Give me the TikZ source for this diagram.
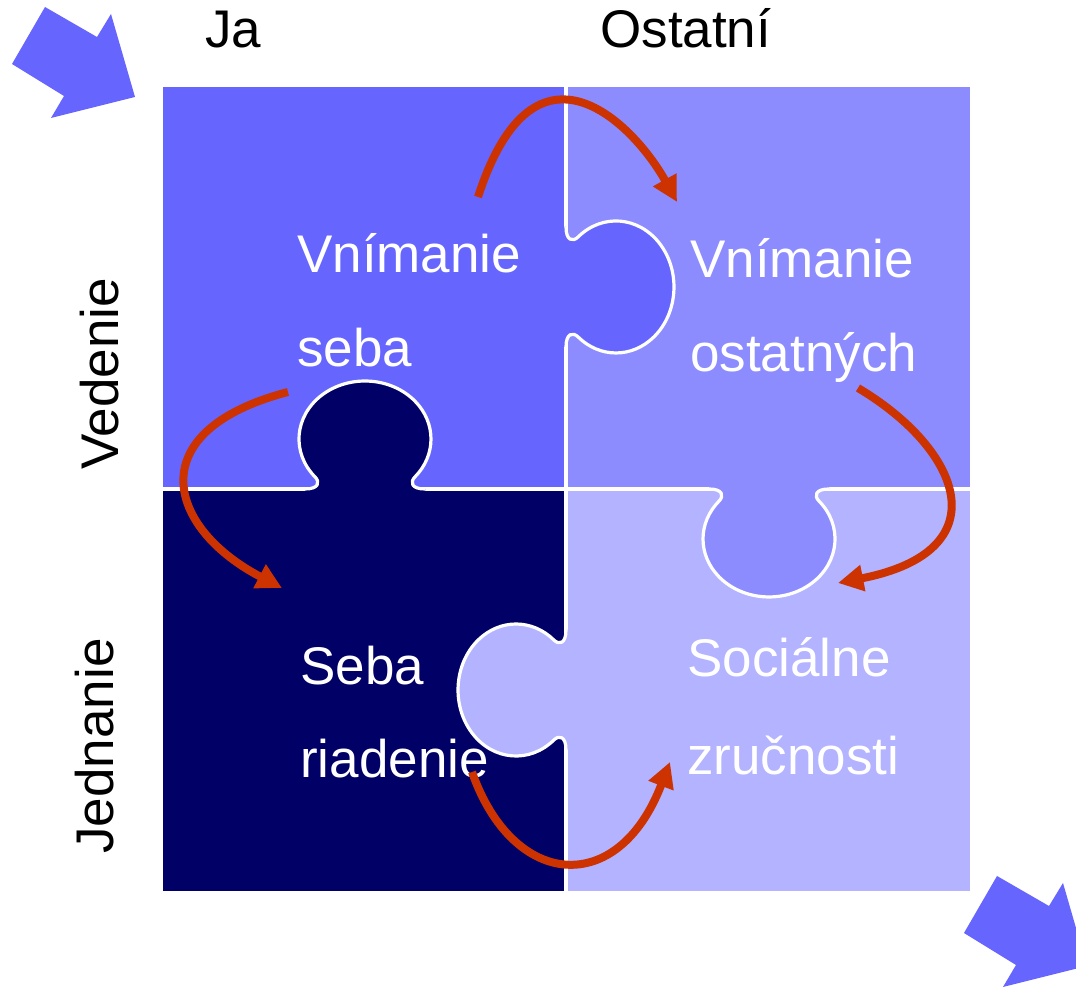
\documentclass[tikz,border=0pt]{standalone}
\usepackage{fontspec}
\setmainfont{Liberation Sans}
\usetikzlibrary{arrows.meta}

\definecolor{qTL}{HTML}{6666FF}
\definecolor{qTR}{HTML}{8C8CFF}
\definecolor{qBL}{HTML}{000066}
\definecolor{qBR}{HTML}{B3B3FF}
\definecolor{flowred}{HTML}{CC3300}

% One jigsaw tab: #1 base centre, #2 rotation (outward = local +y), #3 fill colour
\newcommand\puzzletab[3]{%
  \begin{scope}[shift={#1}, rotate=#2]
    \fill[#3] (-60,0) .. controls (-46,0) and (-45,7) .. (-49.9,12)
      arc[start angle=220.9, end angle=-40.9, x radius=66, y radius=58]
      .. controls (45,7) and (46,0) .. (60,0) -- (60,-4) -- (-60,-4) -- cycle;
    \draw[seam] (-60,0) .. controls (-46,0) and (-45,7) .. (-49.9,12)
      arc[start angle=220.9, end angle=-40.9, x radius=66, y radius=58]
      .. controls (45,7) and (46,0) .. (60,0);
  \end{scope}}

\begin{document}
\begin{tikzpicture}[x=0.75pt, y=0.75pt,
  seam/.style={draw=white, line width=2.4pt},
  lbl/.style={font=\fontsize{39.75pt}{47pt}\selectfont, inner sep=0pt, text=white},
  axislbl/.style={font=\fontsize{39.75pt}{47pt}\selectfont, inner sep=0pt, text=black},
  flow/.style={draw=flowred, line width=6pt, -{Triangle[length=19pt, width=19pt]}},
  bigarrow/.style={fill=qTL}]
\useasboundingbox (0,0) rectangle (1076,987);

% quadrants
\fill[qTL] (163,498) rectangle (566,900);
\fill[qTR] (566,498) rectangle (970,900);
\fill[qBL] (163,96) rectangle (566,498);
\fill[qBR] (566,96) rectangle (970,498);

% seams between the pieces
\draw[seam] (566,96) -- (566,900);
\draw[seam] (163,498) -- (970,498);

% interlocking tabs
\puzzletab{(566,700)}{-90}{qTL}
\puzzletab{(365,498)}{0}{qBL}
\puzzletab{(769,498)}{180}{qTR}
\puzzletab{(566,297)}{90}{qBR}

% big corner arrows
\begin{scope}
  \clip (0,0) rectangle (1076,987);
  \foreach \dx/\dy in {0/0, 952/-869}
    \fill[bigarrow, shift={(\dx,\dy)}] (12,923) -- (45,980) -- (97,950) -- (111,973)
      -- (135,890) -- (51,869) -- (64,891) -- cycle;
\end{scope}

% axis labels
\node[axislbl, anchor=base west] (ja) at (205,939) {Ja};
\node[axislbl, anchor=base west] (ostatni) at (600,939) {Ostatní};
\node[axislbl, rotate=90, anchor=base] (vedenie) at (119,613) {Vedenie};
\node[axislbl, rotate=90, anchor=base] (jednanie) at (113,241) {Jednanie};

% quadrant texts
\node[lbl, anchor=base west] (tl1) at (297,714) {Vnímanie};
\node[lbl, anchor=base west] (tl2) at (297,620) {seba};
\node[lbl, anchor=base west] (tr1) at (690,709) {Vnímanie};
\node[lbl, anchor=base west] (tr2) at (690,615) {ostatných};
\node[lbl, anchor=base west] (bl1) at (300,302) {Seba};
\node[lbl, anchor=base west] (bl2) at (300,209) {riadenie};
\node[lbl, anchor=base west] (br1) at (687,310) {Sociálne};
\node[lbl, anchor=base west] (br2) at (687,212) {zručnosti};

% flow arrows
\coordinate (f1s) at (478,790); \coordinate (f1e) at (677,785);
\coordinate (f2s) at (288,595); \coordinate (f2e) at (282,399);
\coordinate (f3s) at (858,599); \coordinate (f3e) at (838,404);
\coordinate (f4s) at (472,215); \coordinate (f4e) at (670,225);
\draw[flow] (f1s) .. controls (535,966) and (635,861) .. (f1e);
\draw[flow] (f2s) .. controls (139,556) and (167,459) .. (f2e);
\draw[flow] (f3s) .. controls (962,537) and (1001,436) .. (f3e);
\draw[flow] (f4s) .. controls (513,98) and (618,89) .. (f4e);
\end{tikzpicture}
\end{document}
